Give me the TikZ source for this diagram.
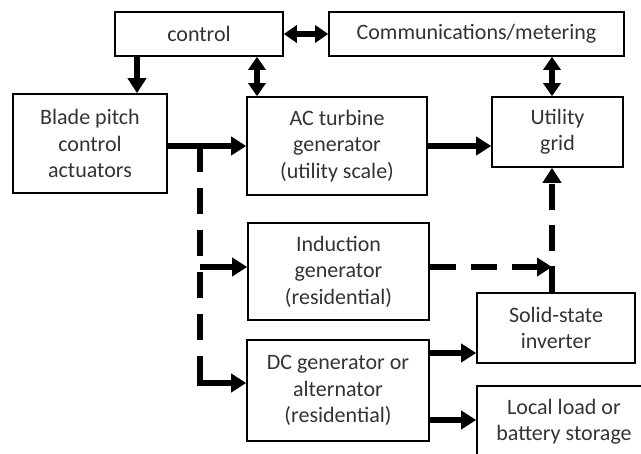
\documentclass[tikz,border=0pt]{standalone}
\usepackage{fontspec}
\setmainfont{Carlito}
\usetikzlibrary{arrows.meta}
\begin{document}
\begin{tikzpicture}[x=1pt,y=-1pt,
  box/.style={draw, line width=1.6pt, align=center, inner sep=0pt,
    font=\fontsize{22}{26.5}\selectfont, text=black!80},
  conn/.style={line width=6pt, -{Triangle[length=15pt,width=18pt]}},
  plain/.style={line width=6pt, line join=miter},
  dconn/.style={line width=6pt, {Triangle[length=13pt,width=17pt]}-{Triangle[length=13pt,width=17pt]}},
  dashconn/.style={conn, dash pattern=on 26pt off 15pt, line join=miter},
  dashplain/.style={line width=6pt, dash pattern=on 26pt off 16pt}]
\useasboundingbox (0,0) rectangle (641,454);
\clip (0,0) rectangle (641,454);
\node[box, minimum width=168pt, minimum height=44pt] (control) at (199,34) {control};
\node[box, minimum width=295pt, minimum height=44pt] (comm) at (476.5,34) {Communications/metering};
\node[box, minimum width=154pt, minimum height=99pt] (blade) at (90,143.5) {Blade pitch\\control\\actuators};
\node[box, minimum width=180pt, minimum height=98pt] (ac) at (337,146) {AC turbine\\generator\\(utility scale)};
\node[box, minimum width=131pt, minimum height=70pt] (util) at (557.5,132) {Utility\\grid};
\node[box, minimum width=181pt, minimum height=97pt] (ind) at (338.5,271.5) {Induction\\generator\\(residential)};
\node[box, minimum width=182pt, minimum height=101pt] (dc) at (338,390.5) {DC generator or\\alternator\\(residential)};
\node[box, minimum width=158pt, minimum height=70pt] (solid) at (556,328) {Solid-state\\inverter};
\node[box, minimum width=174pt, minimum height=72pt] (local) at (564,422) {Local load or\\battery storage};
\coordinate (v) at (552,0);
\coordinate (j1) at (200,146);
\coordinate (j2) at (200,267);
\coordinate (j3) at (552,267);
\coordinate (c1) at (200,359);
\coordinate (h1) at (0,353);
\coordinate (h2) at (0,420);
% solid connectors
\draw[dconn] (control) -- (comm);
\draw[conn] ([xshift=-62pt]control.south) -- ([xshift=47pt]blade.north);
\draw[dconn] ([xshift=58pt]control.south) -- ([xshift=-80pt]ac.north);
\draw[dconn] (v |- comm.south) -- (v |- util.north);
\draw[conn] (blade.east |- ac.west) -- (ac.west);
\draw[conn] (ac.east) -- (ac.east -| util.west);
\draw[conn] (dc.east |- h1) -- (solid.west |- h1);
\draw[conn] (dc.east |- h2) -- (local.west |- h2);
% dashed connectors
\draw[dashplain] (j1) -- (c1);
\draw[conn, line join=miter] (c1) |- ([yshift=7.5pt]dc.west);
\draw[conn] (j2) -- (j2 -| ind.west);
\draw[dashconn] (ind.east |- j3) -- (j3);
\draw[dashconn] (v |- solid.north) -- (v |- util.south);
\end{tikzpicture}
\end{document}
